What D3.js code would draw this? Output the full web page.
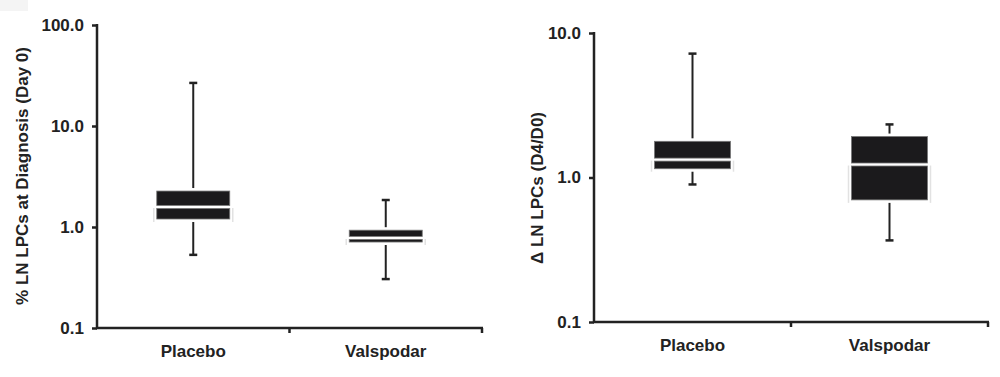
<!DOCTYPE html>
<html>
<head>
<meta charset="utf-8">
<script src="https://cdn.jsdelivr.net/npm/d3@7/dist/d3.min.js"></script>
<style>
  body { margin: 0; background: #fff; }
  text { font-family: "Liberation Sans", Arial, sans-serif; font-weight: bold; fill: #222; }
</style>
</head>
<body>
<div id="chart"></div>
<script>
// groups and box summaries (min, q1, median, q3, max)
var groups = ["Placebo", "Valspodar"];

var day0Min    = [0.53, 0.305];
var day0Q1     = [1.2, 0.71];
var day0Median = [1.58, 0.78];
var day0Q3     = [2.27, 0.93];
var day0Max    = [26.7, 1.85];

var ratioMin    = [0.895, 0.367];
var ratioQ1     = [1.15, 0.70];
var ratioMedian = [1.33, 1.23];
var ratioQ3     = [1.78, 1.92];
var ratioMax    = [7.2, 2.33];

var day0Ticks  = [0.1, 1, 10, 100];
var ratioTicks = [0.1, 1, 10];

var svg = d3.select("#chart").append("svg")
  .attr("width", 1000)
  .attr("height", 377);

// faint grey patch at the corner of the scan
svg.append("rect")
  .attr("x", 0).attr("y", 0)
  .attr("width", 28).attr("height", 11)
  .style("fill", "#f4f4f4");

function panel(opt) {
  var g = svg.append("g");

  var y = d3.scaleLog()
    .domain([0.1, opt.top])
    .range([opt.y1, opt.y0]);

  var x = d3.scaleBand()
    .domain(groups)
    .range([opt.x0, opt.x1]);

  var rows = groups.map(function(name, i) {
    return {name: name, min: opt.min[i], q1: opt.q1[i], med: opt.med[i], q3: opt.q3[i], max: opt.max[i]};
  });

  // y axis
  var yAxis = d3.axisLeft(y)
    .tickValues(opt.ticks)
    .tickFormat(d3.format(".1f"))
    .tickSize(5)
    .tickPadding(8);

  var ya = g.append("g")
    .attr("transform", "translate(" + opt.x0 + ",0)")
    .call(yAxis);
  ya.select(".domain").remove();
  ya.selectAll(".tick line").style("stroke", "#222").style("stroke-width", 2.5);
  ya.selectAll(".tick text").style("font-size", "17px").style("fill", "#222");

  g.append("line")
    .attr("x1", opt.x0).attr("x2", opt.x0)
    .attr("y1", y(opt.top) - 1).attr("y2", y(0.1) + 1)
    .style("stroke", "#222").style("stroke-width", 2.5);

  // x axis
  g.append("line")
    .attr("x1", opt.x0 - 1).attr("x2", opt.x1 + 1)
    .attr("y1", y(0.1)).attr("y2", y(0.1))
    .style("stroke", "#222").style("stroke-width", 2.5);

  var bounds = groups.map(function(d) { return x(d); }).concat([opt.x1]);
  g.selectAll(".xtick")
    .data(bounds.slice(1))
    .enter().append("line")
    .attr("x1", function(d) { return d; })
    .attr("x2", function(d) { return d; })
    .attr("y1", y(0.1))
    .attr("y2", y(0.1) + 5)
    .style("stroke", "#222").style("stroke-width", 2.5);

  g.selectAll(".xlabel")
    .data(groups)
    .enter().append("text")
    .attr("x", function(d) { return x(d) + x.bandwidth() / 2; })
    .attr("y", y(0.1) + 29)
    .attr("text-anchor", "middle")
    .style("font-size", "17px")
    .text(function(d) { return d; });

  // y title
  g.append("text")
    .attr("transform", "translate(" + opt.labelX + "," + opt.labelY + ") rotate(-90)")
    .attr("text-anchor", "middle")
    .attr("dy", "0.35em")
    .style("font-size", "17px")
    .text(opt.title);

  var bw = opt.boxWidth;

  var box = g.selectAll(".box")
    .data(rows)
    .enter().append("g")
    .attr("transform", function(d) { return "translate(" + (x(d.name) + x.bandwidth() / 2) + ",0)"; });

  // whiskers
  box.append("line")
    .attr("x1", 0).attr("x2", 0)
    .attr("y1", function(d) { return y(d.max); })
    .attr("y2", function(d) { return y(d.q3) - 3; })
    .style("stroke", "#222").style("stroke-width", 2);
  box.append("line")
    .attr("x1", 0).attr("x2", 0)
    .attr("y1", function(d) { return y(d.q1) + 3; })
    .attr("y2", function(d) { return y(d.min); })
    .style("stroke", "#222").style("stroke-width", 2);
  box.append("line")
    .attr("x1", -4).attr("x2", 4)
    .attr("y1", function(d) { return y(d.max); })
    .attr("y2", function(d) { return y(d.max); })
    .style("stroke", "#222").style("stroke-width", 2.5);
  box.append("line")
    .attr("x1", -4).attr("x2", 4)
    .attr("y1", function(d) { return y(d.min); })
    .attr("y2", function(d) { return y(d.min); })
    .style("stroke", "#222").style("stroke-width", 2.5);

  // faint side marks of the scan
  box.append("line")
    .attr("x1", -bw / 2 - 3).attr("x2", -bw / 2 - 3)
    .attr("y1", function(d) { return y(d.med) + 1; })
    .attr("y2", function(d) { return y(d.q1) + 3; })
    .style("stroke", "#e2e2e2").style("stroke-width", 1.5);
  box.append("line")
    .attr("x1", bw / 2 + 3).attr("x2", bw / 2 + 3)
    .attr("y1", function(d) { return y(d.med) + 1; })
    .attr("y2", function(d) { return y(d.q1) + 3; })
    .style("stroke", "#e2e2e2").style("stroke-width", 1.5);

  // box: upper and lower halves separated by the white median
  box.append("rect")
    .attr("x", -bw / 2)
    .attr("y", function(d) { return y(d.q3); })
    .attr("width", bw)
    .attr("height", function(d) { return Math.max(0, y(d.med) - y(d.q3) - 1.5); })
    .style("fill", "#1b1a1c")
    .style("stroke", "#777").style("stroke-width", 0.8);
  box.append("rect")
    .attr("x", -bw / 2)
    .attr("y", function(d) { return y(d.med) + 1.5; })
    .attr("width", bw)
    .attr("height", function(d) { return Math.max(0, y(d.q1) - y(d.med) - 1.5); })
    .style("fill", "#1b1a1c")
    .style("stroke", "#777").style("stroke-width", 0.8);
}

panel({
  top: 100, y0: 25, y1: 328, x0: 97, x1: 482,
  ticks: day0Ticks, boxWidth: 73,
  min: day0Min, q1: day0Q1, med: day0Median, q3: day0Q3, max: day0Max,
  title: "% LN LPCs at Diagnosis (Day 0)", labelX: 22, labelY: 176
});

panel({
  top: 10, y0: 33, y1: 322, x0: 594, x1: 988,
  ticks: ratioTicks, boxWidth: 76,
  min: ratioMin, q1: ratioQ1, med: ratioMedian, q3: ratioQ3, max: ratioMax,
  title: "\u0394 LN LPCs (D4/D0)", labelX: 537, labelY: 188
});
</script>
</body>
</html>
